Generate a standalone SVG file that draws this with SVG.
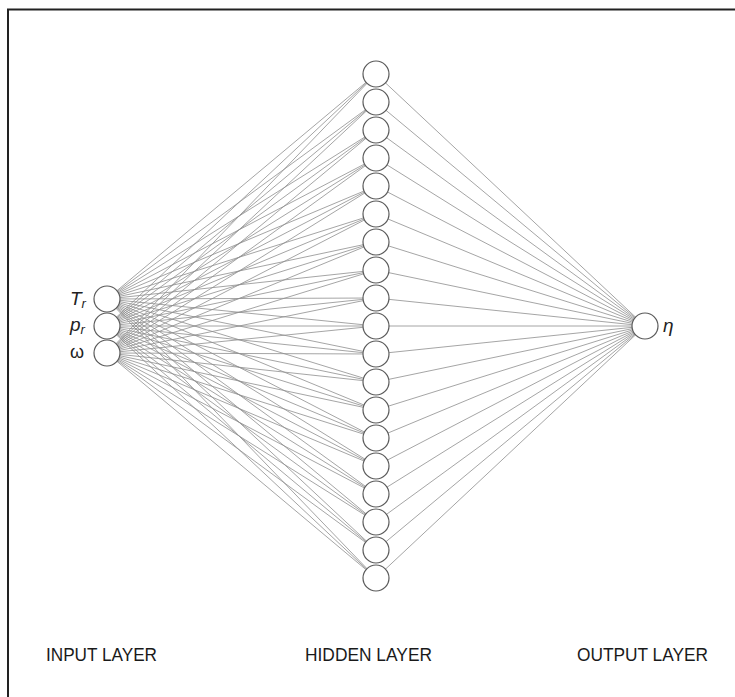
<svg xmlns="http://www.w3.org/2000/svg" width="735" height="697" viewBox="0 0 735 697">
  <style>
    .edge { stroke: #8e8e8e; stroke-width: 0.8; fill: none; }
    .unit { fill: #ffffff; stroke: #5a5a5a; stroke-width: 1.2; }
    .sym { font-family: "Liberation Sans", Arial, sans-serif; font-style: italic; font-size: 19px; fill: #222222; }
    .upright { font-style: normal; font-size: 18px; }
    .layer { font-family: "Liberation Sans", Arial, sans-serif; font-size: 18px; fill: #1a1a1a; }
  </style>
  <rect x="0" y="0" width="735" height="697" fill="#ffffff"/>
  <!-- frame: only top and left edges fall inside the canvas -->
  <path d="M8 697 V9.5 H735" fill="none" stroke="#222222" stroke-width="2"/>

  <g id="connectors">
    <!-- input T_r -> hidden -->
    <g id="from-Tr">
      <line class="edge" x1="107" y1="299" x2="376" y2="74"/>
      <line class="edge" x1="107" y1="299" x2="376" y2="102"/>
      <line class="edge" x1="107" y1="299" x2="376" y2="130"/>
      <line class="edge" x1="107" y1="299" x2="376" y2="158"/>
      <line class="edge" x1="107" y1="299" x2="376" y2="186"/>
      <line class="edge" x1="107" y1="299" x2="376" y2="214"/>
      <line class="edge" x1="107" y1="299" x2="376" y2="242"/>
      <line class="edge" x1="107" y1="299" x2="376" y2="270"/>
      <line class="edge" x1="107" y1="299" x2="376" y2="298"/>
      <line class="edge" x1="107" y1="299" x2="376" y2="326"/>
      <line class="edge" x1="107" y1="299" x2="376" y2="354"/>
      <line class="edge" x1="107" y1="299" x2="376" y2="382"/>
      <line class="edge" x1="107" y1="299" x2="376" y2="410"/>
      <line class="edge" x1="107" y1="299" x2="376" y2="438"/>
      <line class="edge" x1="107" y1="299" x2="376" y2="466"/>
      <line class="edge" x1="107" y1="299" x2="376" y2="494"/>
      <line class="edge" x1="107" y1="299" x2="376" y2="522"/>
      <line class="edge" x1="107" y1="299" x2="376" y2="550"/>
      <line class="edge" x1="107" y1="299" x2="376" y2="578"/>
    </g>
    <!-- input p_r -> hidden -->
    <g id="from-pr">
      <line class="edge" x1="107" y1="326" x2="376" y2="74"/>
      <line class="edge" x1="107" y1="326" x2="376" y2="102"/>
      <line class="edge" x1="107" y1="326" x2="376" y2="130"/>
      <line class="edge" x1="107" y1="326" x2="376" y2="158"/>
      <line class="edge" x1="107" y1="326" x2="376" y2="186"/>
      <line class="edge" x1="107" y1="326" x2="376" y2="214"/>
      <line class="edge" x1="107" y1="326" x2="376" y2="242"/>
      <line class="edge" x1="107" y1="326" x2="376" y2="270"/>
      <line class="edge" x1="107" y1="326" x2="376" y2="298"/>
      <line class="edge" x1="107" y1="326" x2="376" y2="326"/>
      <line class="edge" x1="107" y1="326" x2="376" y2="354"/>
      <line class="edge" x1="107" y1="326" x2="376" y2="382"/>
      <line class="edge" x1="107" y1="326" x2="376" y2="410"/>
      <line class="edge" x1="107" y1="326" x2="376" y2="438"/>
      <line class="edge" x1="107" y1="326" x2="376" y2="466"/>
      <line class="edge" x1="107" y1="326" x2="376" y2="494"/>
      <line class="edge" x1="107" y1="326" x2="376" y2="522"/>
      <line class="edge" x1="107" y1="326" x2="376" y2="550"/>
      <line class="edge" x1="107" y1="326" x2="376" y2="578"/>
    </g>
    <!-- input omega -> hidden -->
    <g id="from-omega">
      <line class="edge" x1="107" y1="353" x2="376" y2="74"/>
      <line class="edge" x1="107" y1="353" x2="376" y2="102"/>
      <line class="edge" x1="107" y1="353" x2="376" y2="130"/>
      <line class="edge" x1="107" y1="353" x2="376" y2="158"/>
      <line class="edge" x1="107" y1="353" x2="376" y2="186"/>
      <line class="edge" x1="107" y1="353" x2="376" y2="214"/>
      <line class="edge" x1="107" y1="353" x2="376" y2="242"/>
      <line class="edge" x1="107" y1="353" x2="376" y2="270"/>
      <line class="edge" x1="107" y1="353" x2="376" y2="298"/>
      <line class="edge" x1="107" y1="353" x2="376" y2="326"/>
      <line class="edge" x1="107" y1="353" x2="376" y2="354"/>
      <line class="edge" x1="107" y1="353" x2="376" y2="382"/>
      <line class="edge" x1="107" y1="353" x2="376" y2="410"/>
      <line class="edge" x1="107" y1="353" x2="376" y2="438"/>
      <line class="edge" x1="107" y1="353" x2="376" y2="466"/>
      <line class="edge" x1="107" y1="353" x2="376" y2="494"/>
      <line class="edge" x1="107" y1="353" x2="376" y2="522"/>
      <line class="edge" x1="107" y1="353" x2="376" y2="550"/>
      <line class="edge" x1="107" y1="353" x2="376" y2="578"/>
    </g>
    <!-- hidden -> output eta -->
    <g id="to-eta">
      <line class="edge" x1="376" y1="74" x2="645" y2="326"/>
      <line class="edge" x1="376" y1="102" x2="645" y2="326"/>
      <line class="edge" x1="376" y1="130" x2="645" y2="326"/>
      <line class="edge" x1="376" y1="158" x2="645" y2="326"/>
      <line class="edge" x1="376" y1="186" x2="645" y2="326"/>
      <line class="edge" x1="376" y1="214" x2="645" y2="326"/>
      <line class="edge" x1="376" y1="242" x2="645" y2="326"/>
      <line class="edge" x1="376" y1="270" x2="645" y2="326"/>
      <line class="edge" x1="376" y1="298" x2="645" y2="326"/>
      <line class="edge" x1="376" y1="326" x2="645" y2="326"/>
      <line class="edge" x1="376" y1="354" x2="645" y2="326"/>
      <line class="edge" x1="376" y1="382" x2="645" y2="326"/>
      <line class="edge" x1="376" y1="410" x2="645" y2="326"/>
      <line class="edge" x1="376" y1="438" x2="645" y2="326"/>
      <line class="edge" x1="376" y1="466" x2="645" y2="326"/>
      <line class="edge" x1="376" y1="494" x2="645" y2="326"/>
      <line class="edge" x1="376" y1="522" x2="645" y2="326"/>
      <line class="edge" x1="376" y1="550" x2="645" y2="326"/>
      <line class="edge" x1="376" y1="578" x2="645" y2="326"/>
    </g>
  </g>

  <!-- input layer -->
  <g id="in-Tr">
    <circle class="unit" cx="107" cy="299" r="13"/>
    <text class="sym" x="70" y="305">T<tspan font-size="13" dy="3">r</tspan></text>
  </g>
  <g id="in-pr">
    <circle class="unit" cx="107" cy="326" r="13"/>
    <text class="sym" x="70" y="331">p<tspan font-size="13" dy="3">r</tspan></text>
  </g>
  <g id="in-omega">
    <circle class="unit" cx="107" cy="353" r="13"/>
    <text class="sym upright" x="70" y="358">ω</text>
  </g>

  <!-- hidden layer -->
  <g id="h1"><circle class="unit" cx="376" cy="74" r="13"/></g>
  <g id="h2"><circle class="unit" cx="376" cy="102" r="13"/></g>
  <g id="h3"><circle class="unit" cx="376" cy="130" r="13"/></g>
  <g id="h4"><circle class="unit" cx="376" cy="158" r="13"/></g>
  <g id="h5"><circle class="unit" cx="376" cy="186" r="13"/></g>
  <g id="h6"><circle class="unit" cx="376" cy="214" r="13"/></g>
  <g id="h7"><circle class="unit" cx="376" cy="242" r="13"/></g>
  <g id="h8"><circle class="unit" cx="376" cy="270" r="13"/></g>
  <g id="h9"><circle class="unit" cx="376" cy="298" r="13"/></g>
  <g id="h10"><circle class="unit" cx="376" cy="326" r="13"/></g>
  <g id="h11"><circle class="unit" cx="376" cy="354" r="13"/></g>
  <g id="h12"><circle class="unit" cx="376" cy="382" r="13"/></g>
  <g id="h13"><circle class="unit" cx="376" cy="410" r="13"/></g>
  <g id="h14"><circle class="unit" cx="376" cy="438" r="13"/></g>
  <g id="h15"><circle class="unit" cx="376" cy="466" r="13"/></g>
  <g id="h16"><circle class="unit" cx="376" cy="494" r="13"/></g>
  <g id="h17"><circle class="unit" cx="376" cy="522" r="13"/></g>
  <g id="h18"><circle class="unit" cx="376" cy="550" r="13"/></g>
  <g id="h19"><circle class="unit" cx="376" cy="578" r="13"/></g>

  <!-- output layer -->
  <g id="out-eta">
    <circle class="unit" cx="645" cy="326" r="13"/>
    <text class="sym" x="663" y="332">η</text>
  </g>

  <!-- layer captions -->
  <g id="captions">
    <text class="layer" x="46" y="661" textLength="111" lengthAdjust="spacingAndGlyphs">INPUT LAYER</text>
    <text class="layer" x="305" y="661" textLength="127" lengthAdjust="spacingAndGlyphs">HIDDEN LAYER</text>
    <text class="layer" x="577" y="661" textLength="131" lengthAdjust="spacingAndGlyphs">OUTPUT LAYER</text>
  </g>
</svg>
